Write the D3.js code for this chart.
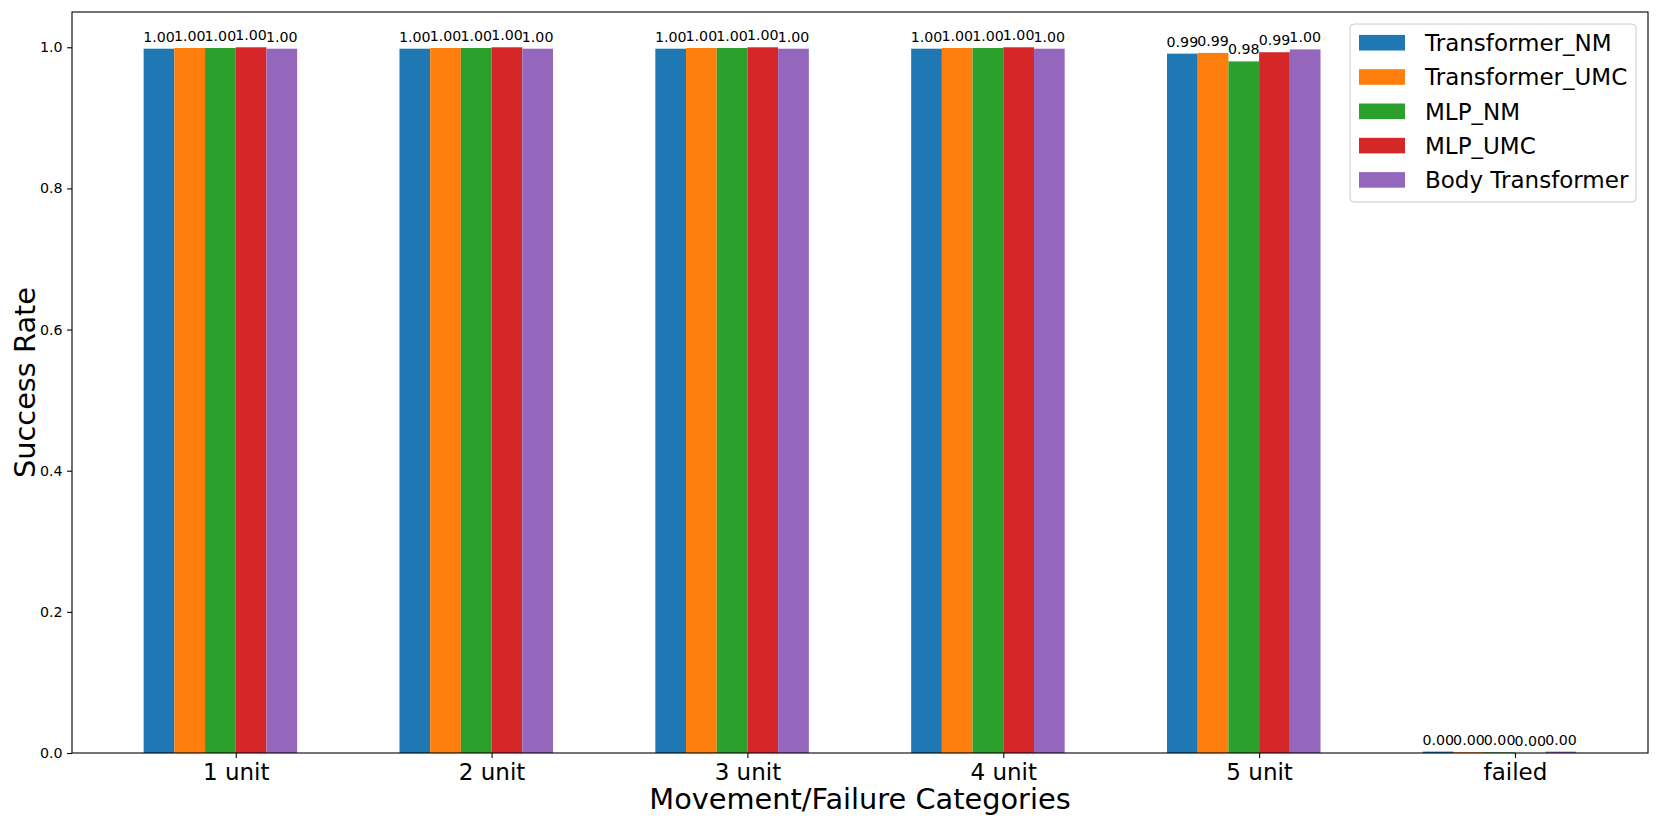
<!DOCTYPE html>
<html><head><meta charset="utf-8">
<script src="https://cdn.jsdelivr.net/npm/d3@7"></script>
<style>body{margin:0;background:#fff}svg{display:block;font-family:"DejaVu Sans",sans-serif}</style>
</head><body><svg id="c" width="1661" height="830"></svg>
<script>
const categories = ["1 unit","2 unit","3 unit","4 unit","5 unit","failed"];
const seriesNames = ["Transformer_NM","Transformer_UMC","MLP_NM","MLP_UMC","Body Transformer"];
const transformerNM  = [0.998,0.998,0.998,0.998,0.991,0.002];
const transformerUMC = [0.999,0.999,0.999,0.999,0.992,0.001];
const mlpNM          = [0.999,0.999,0.999,0.999,0.980,0.001];
const mlpUMC         = [1.000,1.000,1.000,1.000,0.993,0.000];
const bodyTransformer= [0.998,0.998,0.998,0.998,0.997,0.002];
const colors = ["#1f77b4","#ff7f0e","#2ca02c","#d62728","#9467bd"];
const yTicks = [0,0.2,0.4,0.6,0.8,1.0];

const series = [transformerNM, transformerUMC, mlpNM, mlpUMC, bodyTransformer];
const svg = d3.select("#c");
const L=72, R=1648, T=12, B=753;
const bw = 0.12;
const x = d3.scaleLinear().domain([-0.64, 5.52]).range([L,R]);
const y = d3.scaleLinear().domain([0,1.05]).range([B,T]);

// bars
series.forEach((vals,i)=>{
  const g = svg.append("g");
  vals.forEach((v,ci)=>{
    const x0 = x(ci + (i-3)*bw), x1 = x(ci + (i-2)*bw);
    g.append("rect").attr("x",x0).attr("y",y(v)).attr("width",x1-x0).attr("height",y(0)-y(v)).attr("fill",colors[i]);
    g.append("text").attr("x",(x0+x1)/2).attr("y",y(v)-7).attr("text-anchor","middle")
      .attr("font-size",14.2).attr("fill","#000").text(v.toFixed(2));
  });
});

// frame
svg.append("rect").attr("x",L).attr("y",T).attr("width",R-L).attr("height",B-T)
  .attr("fill","none").attr("stroke","#000").attr("stroke-width",1.1);

// y axis
const yAxis = d3.axisLeft(y).tickValues(yTicks).tickFormat(d3.format(".1f")).tickSize(4.9).tickPadding(4.5);
const ya = svg.append("g").attr("transform",`translate(${L},0)`).call(yAxis);
ya.select(".domain").remove();
ya.selectAll("line").attr("stroke","#000").attr("stroke-width",1.1);
ya.selectAll("text").attr("font-size",14.2).attr("font-family","DejaVu Sans").attr("fill","#000");

// x axis
const xAxis = d3.axisBottom(x).tickValues(d3.range(categories.length)).tickFormat(i=>categories[i]).tickSize(4.9).tickPadding(6);
const xa = svg.append("g").attr("transform",`translate(0,${B})`).call(xAxis);
xa.select(".domain").remove();
xa.selectAll("line").attr("stroke","#000").attr("stroke-width",1.1);
xa.selectAll("text").attr("font-size",23).attr("font-family","DejaVu Sans").attr("fill","#000");

// axis labels
svg.append("text").attr("x",(L+R)/2).attr("y",809).attr("text-anchor","middle").attr("font-size",28.8).text("Movement/Failure Categories");
svg.append("text").attr("transform",`translate(35,${(T+B)/2}) rotate(-90)`).attr("text-anchor","middle").attr("font-size",28.8).text("Success Rate");

// legend
const lg = svg.append("g");
lg.append("rect").attr("x",1350).attr("y",24).attr("width",286).attr("height",178).attr("rx",4)
  .attr("fill","#fff").attr("fill-opacity",0.8).attr("stroke","#cccccc").attr("stroke-width",1);
seriesNames.forEach((n,i)=>{
  const cy = 42.7 + i*34.3;
  lg.append("rect").attr("x",1359).attr("y",cy-7.8).attr("width",46).attr("height",15.6).attr("fill",colors[i]);
  lg.append("text").attr("x",1425).attr("y",cy).attr("dy","0.36em").attr("font-size",23).text(n);
});
</script></body></html>
